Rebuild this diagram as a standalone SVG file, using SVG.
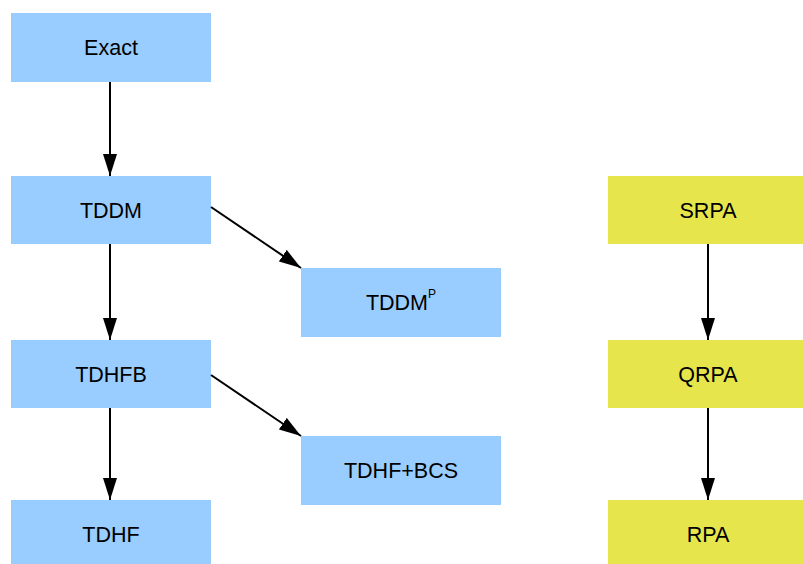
<svg xmlns="http://www.w3.org/2000/svg" width="803" height="564" viewBox="0 0 803 564">
<style>
.b{fill:#99ccff}
.y{fill:#e6e64c}
text{font-family:"Liberation Sans",Arial,sans-serif;font-size:21.5px;fill:#000;text-anchor:middle;dominant-baseline:central}
.c line{stroke:#000;stroke-width:2;marker-end:url(#ah)}
</style>
<defs>
<marker id="ah" markerUnits="userSpaceOnUse" markerWidth="22" markerHeight="14" refX="22" refY="7" orient="auto">
<path d="M0,0 L22,7 L0,14 Z" fill="#000"/>
</marker>
</defs>
<rect width="803" height="564" fill="#fff"/>
<g id="exact"><rect class="b" x="11" y="13" width="200" height="69"/><text x="111" y="48">Exact</text></g>
<g id="tddm"><rect class="b" x="11" y="176" width="200" height="68"/><text x="111" y="211">TDDM</text></g>
<g id="tddmp"><rect class="b" x="301" y="268" width="200" height="69"/><text x="401" y="303">TDDM<tspan font-size="12" dy="-9">P</tspan></text></g>
<g id="tdhfb"><rect class="b" x="11" y="340" width="200" height="68"/><text x="111" y="375">TDHFB</text></g>
<g id="tdhfbcs"><rect class="b" x="301" y="436" width="200" height="69"/><text x="401" y="471">TDHF+BCS</text></g>
<g id="tdhf"><rect class="b" x="11" y="500" width="200" height="64"/><text x="111" y="535">TDHF</text></g>
<g id="srpa"><rect class="y" x="608" y="176" width="195" height="68"/><text x="708" y="211">SRPA</text></g>
<g id="qrpa"><rect class="y" x="608" y="340" width="195" height="68"/><text x="708" y="375">QRPA</text></g>
<g id="rpa"><rect class="y" x="608" y="500" width="195" height="64"/><text x="708" y="535">RPA</text></g>
<g class="c" id="connectors">
<line x1="110" y1="82" x2="110" y2="176"/>
<line x1="110" y1="244" x2="110" y2="340"/>
<line x1="110" y1="408" x2="110" y2="500"/>
<line x1="211" y1="207" x2="301" y2="268"/>
<line x1="211" y1="375" x2="301" y2="436"/>
<line x1="708" y1="244" x2="708" y2="340"/>
<line x1="708" y1="408" x2="708" y2="500"/>
</g>
</svg>
